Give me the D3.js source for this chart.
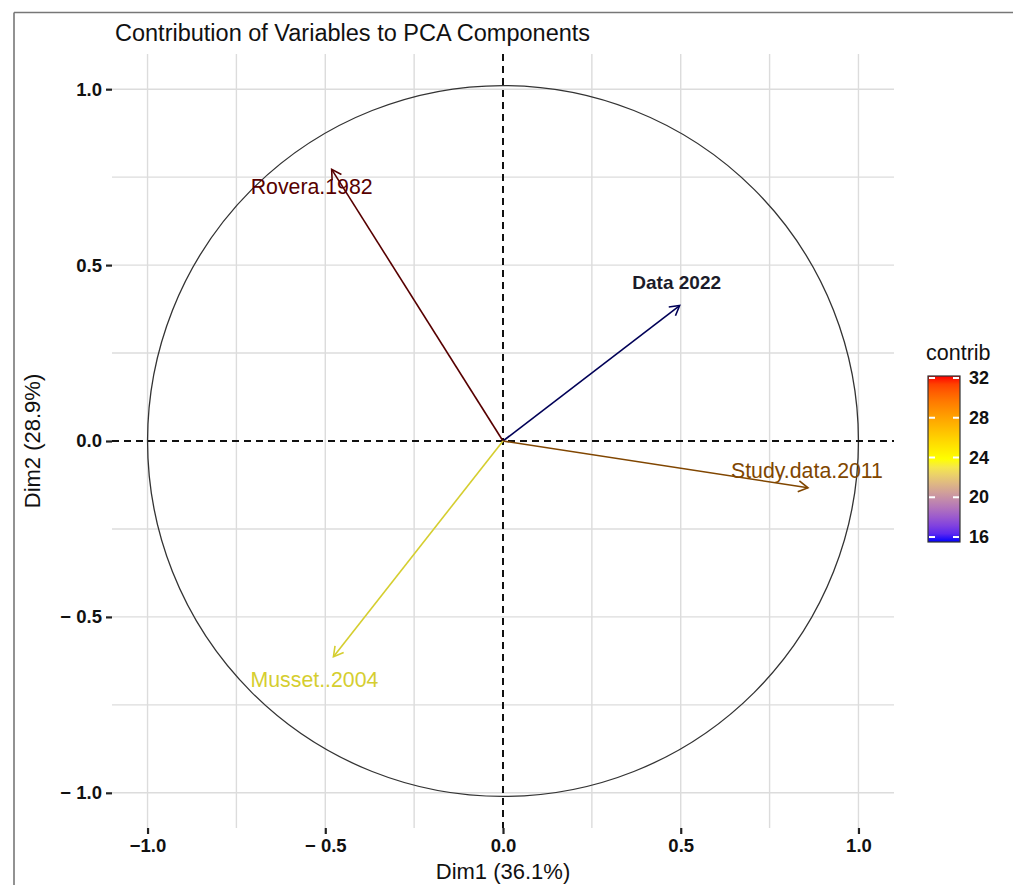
<!DOCTYPE html>
<html>
<head>
<meta charset="utf-8">
<script src="https://cdn.jsdelivr.net/npm/d3@7"></script>
<style>
  body { margin: 0; background: #fff; }
  svg { font-family: "Liberation Sans", Arial, sans-serif; }
</style>
</head>
<body>
<div id="chart"></div>
<script>
// PCA variable loadings (Dim1, Dim2) and contribution
const variables = ["Rovera.1982", "Data 2022", "Study.data.2011", "Musset..2004"];
const dim1 = [-0.482, 0.497, 0.858, -0.477];
const dim2 = [0.772, 0.385, -0.133, -0.613];
const contrib = [32.2, 15.5, 28.9, 23.4];

const axisTicks = [-1, -0.5, 0, 0.5, 1];
const xTickLabels = ["\u22121.0", "\u2212 0.5", "0.0", "0.5", "1.0"];
const yTickLabels = ["\u2212 1.0", "\u2212 0.5", "0.0", "0.5", "1.0"];
const gridTicks = [-1, -0.75, -0.5, -0.25, 0.25, 0.5, 0.75, 1];
const legendTicks = [16, 20, 24, 28, 32];

// label offsets in px from arrow tip (repel-ish placement)
const labelOffsets = [[-20, 18], [-3, -23], [-1, -17], [-19, 23]];

const width = 1013, height = 885;
const svg = d3.select("#chart").append("svg")
    .attr("width", width)
    .attr("height", height);

const x = d3.scaleLinear().domain([-1.1, 1.1]).range([112, 894]);
const y = d3.scaleLinear().domain([-1.1, 1.1]).range([828, 54]);

const cMin = d3.min(contrib), cMax = d3.max(contrib);
const color = d3.scaleLinear()
    .domain([cMin, (cMin + cMax) / 2, cMax])
    .range(["blue", "yellow", "red"])
    .interpolate(d3.interpolateLab);

// outer frame (top and left edges only, as in the source image)
svg.append("line").attr("x1", 14).attr("x2", width).attr("y1", 12.5).attr("y2", 12.5)
    .attr("stroke", "#777").attr("stroke-width", 1.6);
svg.append("line").attr("x1", 14).attr("x2", 14).attr("y1", 12.5).attr("y2", height)
    .attr("stroke", "#777").attr("stroke-width", 1.6);

// title
svg.append("text")
    .attr("x", 115).attr("y", 41)
    .attr("font-size", 23.5)
    .attr("fill", "#111")
    .text("Contribution of Variables to PCA Components");

// grid
const grid = svg.append("g");
grid.selectAll(".vgrid").data(gridTicks).join("line")
    .attr("x1", d => x(d)).attr("x2", d => x(d))
    .attr("y1", y.range()[1]).attr("y2", y.range()[0])
    .attr("stroke", "#dcdcdc").attr("stroke-width", 1.4);
grid.selectAll(".hgrid").data(gridTicks).join("line")
    .attr("y1", d => y(d)).attr("y2", d => y(d))
    .attr("x1", x.range()[0]).attr("x2", x.range()[1])
    .attr("stroke", "#dcdcdc").attr("stroke-width", 1.4);

// unit circle
svg.append("circle")
    .attr("cx", x(0)).attr("cy", y(0))
    .attr("r", x(1) - x(0))
    .attr("fill", "none")
    .attr("stroke", "#333")
    .attr("stroke-width", 1.3);

// dashed reference lines
svg.append("line")
    .attr("x1", x.range()[0]).attr("x2", x.range()[1])
    .attr("y1", y(0)).attr("y2", y(0))
    .attr("stroke", "#111").attr("stroke-width", 2).attr("stroke-dasharray", "7,5");
svg.append("line")
    .attr("x1", x(0)).attr("x2", x(0))
    .attr("y1", y.range()[1]).attr("y2", y.range()[0])
    .attr("stroke", "#111").attr("stroke-width", 2).attr("stroke-dasharray", "7,5");

// axes
const xAxis = svg.append("g").attr("transform", `translate(0,${y.range()[0]})`)
    .call(d3.axisBottom(x).tickValues(axisTicks).tickSize(6).tickPadding(5)
        .tickFormat((d, i) => xTickLabels[i]));
const yAxis = svg.append("g").attr("transform", `translate(${x.range()[0]},0)`)
    .call(d3.axisLeft(y).tickValues(axisTicks).tickSize(6).tickPadding(4)
        .tickFormat((d, i) => yTickLabels[i]));
[xAxis, yAxis].forEach(g => {
    g.select(".domain").remove();
    g.selectAll(".tick line").attr("stroke", "#222").attr("stroke-width", 2.2);
    g.selectAll(".tick text")
        .attr("font-size", 18.5)
        .attr("font-weight", "bold")
        .attr("fill", "#111")
        .attr("font-family", "Liberation Sans, Arial, sans-serif");
});

svg.append("text")
    .attr("x", x(0)).attr("y", 879)
    .attr("text-anchor", "middle")
    .attr("font-size", 22).attr("fill", "#111")
    .text("Dim1 (36.1%)");
svg.append("text")
    .attr("transform", `translate(40,${y(0)}) rotate(-90)`)
    .attr("text-anchor", "middle")
    .attr("font-size", 22).attr("fill", "#111")
    .text("Dim2 (28.9%)");

// arrows
const rows = variables.map((v, i) => ({
    name: v, x: dim1[i], y: dim2[i], c: contrib[i], off: labelOffsets[i]
}));
const mid = (cMin + cMax) / 2, half = (cMax - cMin) / 2;
// the source image renders the thin arrows noticeably darker than the legend
const shown = d => d3.color(color(d.c)).darker(0.3 + 2.7 * Math.abs(d.c - mid) / half).formatHex();

const arrows = svg.append("g");
arrows.selectAll(".arrow").data(rows).join("line")
    .attr("x1", x(0)).attr("y1", y(0))
    .attr("x2", d => x(d.x)).attr("y2", d => y(d.y))
    .attr("stroke", shown).attr("stroke-width", 1.6);

arrows.selectAll(".head").data(rows).join("path")
    .attr("fill", "none")
    .attr("stroke", shown)
    .attr("stroke-width", 1.6)
    .attr("d", d => {
        const tx = x(d.x), ty = y(d.y);
        const a = Math.atan2(ty - y(0), tx - x(0));
        const L = 11, w = Math.PI / 6;
        const p1 = [tx - L * Math.cos(a - w), ty - L * Math.sin(a - w)];
        const p2 = [tx - L * Math.cos(a + w), ty - L * Math.sin(a + w)];
        return `M${p1[0]},${p1[1]}L${tx},${ty}L${p2[0]},${p2[1]}`;
    });

arrows.selectAll(".lab").data(rows).join("text")
    .attr("x", d => x(d.x) + d.off[0])
    .attr("y", d => y(d.y) + d.off[1])
    .attr("text-anchor", "middle")
    .attr("dominant-baseline", "central")
    .attr("font-size", d => d.name === "Data 2022" ? 19 : 21.3)
    .attr("font-weight", d => d.name === "Data 2022" ? "bold" : "normal")
    .attr("fill", d => d.name === "Data 2022" ? "#1c1c2a" : shown(d))
    .text(d => d.name);

// colour bar legend
const lg = svg.append("g");
const barX = 928, barW = 32;
const ly = d3.scaleLinear().domain([cMin, cMax]).range([542, 376]);

const grad = svg.append("defs").append("linearGradient")
    .attr("id", "cbar").attr("x1", 0).attr("y1", 1).attr("x2", 0).attr("y2", 0);
d3.range(0, 1.0001, 0.05).forEach(t => {
    grad.append("stop").attr("offset", t).attr("stop-color", color(cMin + t * (cMax - cMin)));
});

lg.append("text")
    .attr("x", 926).attr("y", 360)
    .attr("font-size", 21.5).attr("fill", "#111")
    .text("contrib");

lg.append("rect")
    .attr("x", barX).attr("y", ly(cMax))
    .attr("width", barW).attr("height", ly(cMin) - ly(cMax))
    .attr("fill", "url(#cbar)")
    .attr("stroke", "#333").attr("stroke-width", 1.2);

lg.selectAll(".tl").data(legendTicks).join("g")
    .each(function (d) {
        const g = d3.select(this);
        g.append("line").attr("x1", barX + 1).attr("x2", barX + 7)
            .attr("y1", ly(d)).attr("y2", ly(d)).attr("stroke", "#fff").attr("stroke-width", 2);
        g.append("line").attr("x1", barX + barW - 7).attr("x2", barX + barW - 1)
            .attr("y1", ly(d)).attr("y2", ly(d)).attr("stroke", "#fff").attr("stroke-width", 2);
    });

lg.selectAll(".tt").data(legendTicks).join("text")
    .attr("x", 969).attr("y", d => ly(d))
    .attr("dominant-baseline", "central")
    .attr("font-size", 18).attr("font-weight", "bold").attr("fill", "#111")
    .text(d => d);
</script>
</body>
</html>
